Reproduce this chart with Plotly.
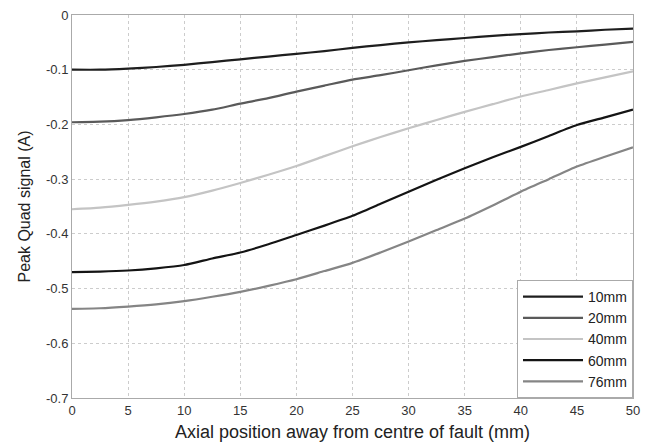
import plotly.graph_objects as go

x_mm = [0, 2.5, 5, 7.5, 10, 12.5, 15, 17.5, 20, 22.5, 25, 27.5, 30, 32.5, 35, 37.5, 40, 42.5, 45, 47.5, 50]

s10 = [-0.100, -0.100, -0.098, -0.095, -0.091, -0.086, -0.081, -0.076, -0.071, -0.066, -0.060, -0.055, -0.050, -0.046, -0.042, -0.038, -0.035, -0.032, -0.030, -0.027, -0.025]
s20 = [-0.196, -0.195, -0.192, -0.187, -0.181, -0.173, -0.162, -0.152, -0.140, -0.129, -0.118, -0.110, -0.101, -0.092, -0.084, -0.077, -0.070, -0.064, -0.059, -0.054, -0.049]
s40 = [-0.355, -0.352, -0.347, -0.341, -0.333, -0.321, -0.307, -0.292, -0.276, -0.258, -0.240, -0.223, -0.207, -0.192, -0.177, -0.163, -0.149, -0.137, -0.125, -0.114, -0.103]
s60 = [-0.470, -0.469, -0.467, -0.463, -0.457, -0.445, -0.434, -0.419, -0.402, -0.385, -0.367, -0.345, -0.323, -0.301, -0.280, -0.260, -0.241, -0.221, -0.201, -0.187, -0.173]
s76 = [-0.537, -0.536, -0.533, -0.529, -0.523, -0.515, -0.506, -0.495, -0.483, -0.468, -0.453, -0.434, -0.414, -0.393, -0.372, -0.348, -0.323, -0.300, -0.277, -0.259, -0.242]

names = ["10mm", "20mm", "40mm", "60mm", "76mm"]
series = [s10, s20, s40, s60, s76]
colors = ["#1e1e1e", "#5a5a5a", "#c4c4c4", "#141414", "#858585"]

x_ticks = [0, 5, 10, 15, 20, 25, 30, 35, 40, 45, 50]
x_ticklabels = ["0", "5", "10", "15", "20", "25", "30", "35", "40", "45", "50"]
y_ticks = [0, -0.1, -0.2, -0.3, -0.4, -0.5, -0.6, -0.7]
y_ticklabels = ["0", "-0.1", "-0.2", "-0.3", "-0.4", "-0.5", "-0.6", "-0.7"]

fig = go.Figure()
for n, s, c in zip(names, series, colors):
    fig.add_trace(go.Scatter(x=x_mm, y=s, mode="lines", name=n,
                             line=dict(color=c, width=2.2, shape="spline", smoothing=0.6)))

axis_common = dict(
    showline=True, linecolor="#aaaaaa", linewidth=1, mirror=True,
    showgrid=True, gridcolor="#cccccc", griddash="dot", gridwidth=1,
    zeroline=False, ticks="", tickfont=dict(size=13, color="#333333"),
    automargin=False, ticklabeloverflow="allow",
)

fig.update_layout(
    width=651, height=447,
    margin=dict(l=64, r=26, t=7, b=57),
    paper_bgcolor="white", plot_bgcolor="white",
    font=dict(family="Liberation Sans, Arial, sans-serif", color="#222222"),
    xaxis=dict(range=[0, 50], tickmode="array", tickvals=x_ticks, ticktext=x_ticklabels,
               title=dict(text="Axial position away from centre of fault (mm)",
                          font=dict(size=18), standoff=8), **axis_common),
    yaxis=dict(range=[-0.7, 0], tickmode="array", tickvals=y_ticks, ticktext=y_ticklabels,
               title=dict(text="Peak Quad signal (A)", font=dict(size=16), standoff=11), **axis_common),
    legend=dict(x=1, y=0, xanchor="right", yanchor="bottom",
                bgcolor="white", bordercolor="#aaaaaa", borderwidth=1,
                font=dict(size=14, color="#222222"), itemwidth=60,
                tracegroupgap=0),
    showlegend=True,
)

fig.write_html("out.html")
